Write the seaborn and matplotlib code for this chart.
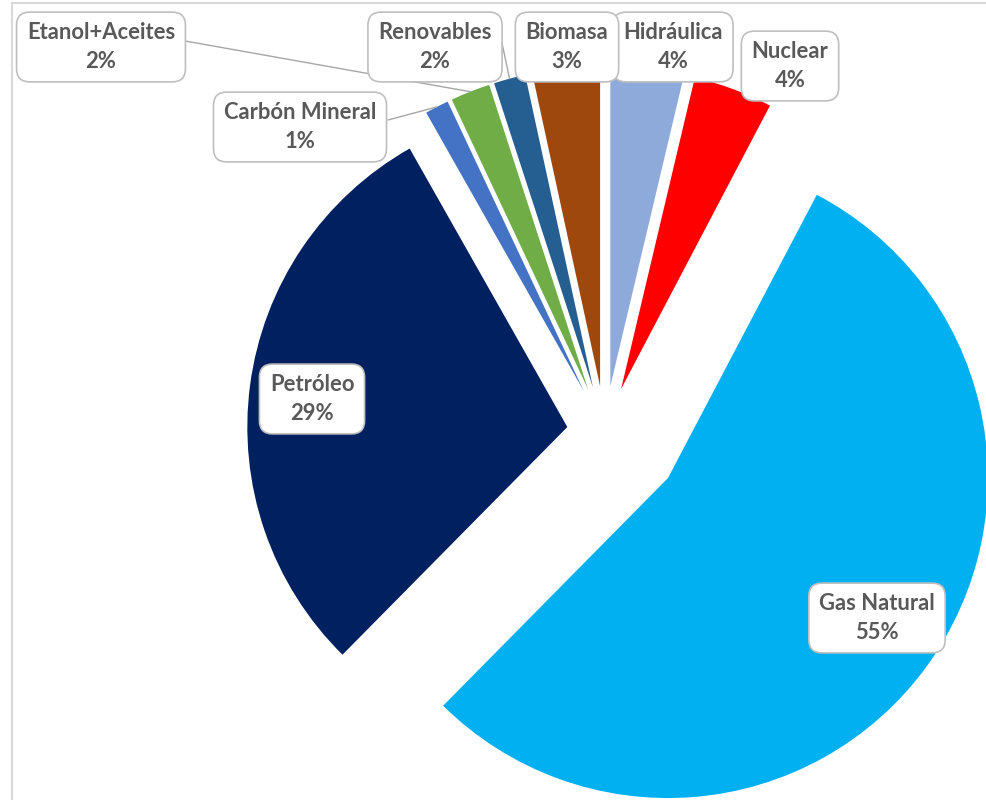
import numpy as np
import matplotlib
matplotlib.use("Agg")
import matplotlib.pyplot as plt
import seaborn as sns

# Energy mix shares (%), clockwise from 12 o'clock
fuentes = ["Hidráulica", "Nuclear", "Gas Natural", "Petróleo",
           "Carbón Mineral", "Etanol+Aceites", "Renovables", "Biomasa"]
participacion = [3.7, 4.0, 54.7, 29.4, 1.2, 2.0, 1.6, 3.4]
colores = ["#8EAADB", "#FF0000", "#00B0F0", "#002060",
           "#4472C4", "#70AD47", "#255E91", "#9E480E"]

sns.set_theme(style="white")
plt.rcParams["font.family"] = ["Lato", "DejaVu Sans"]

W, H = 986, 800
fig = plt.figure(figsize=(W / 100, H / 100), dpi=100)
ax = fig.add_axes([0, 0, 1, 1])


def py(y):
    """Convert a top-down pixel row into the axes' upward y coordinate."""
    return H - y


# Pie geometry (pixel units)
centro = (605, py(432))
radio = 320
separacion = [46, 46, 78, 38, 46, 46, 46, 46]

wedges, _ = ax.pie(participacion, colors=colores, startangle=90,
                   counterclock=False, center=centro, radius=radio,
                   explode=separacion, frame=True,
                   wedgeprops=dict(linewidth=0))

ax.set_xlim(0, W)
ax.set_ylim(0, H)
ax.set_aspect("equal")
ax.set_axis_off()

# Chart-area border (top and left edges visible)
ax.plot([12, W], [py(3), py(3)], color="#d9d9d9", lw=1.5, clip_on=False)
ax.plot([12, 12], [py(3), 0], color="#d9d9d9", lw=1.5, clip_on=False)

# Label box centres (pixel coordinates)
etiquetas_pos = {
    "Hidráulica": (673, 47),
    "Nuclear": (790, 66),
    "Gas Natural": (877, 618),
    "Petróleo": (312, 399),
    "Carbón Mineral": (300, 127),
    "Etanol+Aceites": (101, 47),
    "Renovables": (435, 47),
    "Biomasa": (567, 47),
}

for nombre, valor in zip(fuentes, participacion):
    x, y = etiquetas_pos[nombre]
    ax.text(x, py(y), f"{nombre}\n{valor:.0f}%", ha="center", va="center",
            fontsize=15.8, fontweight="bold", color="#595959",
            linespacing=1.42, zorder=5,
            bbox=dict(boxstyle="round,pad=0.47,rounding_size=0.6",
                      fc="white", ec="#bfbfbf", lw=1.2))


def punto_arco(w):
    """Midpoint of a wedge's outer arc."""
    ang = np.deg2rad(0.5 * (w.theta1 + w.theta2))
    cx, cy = w.center
    return cx + w.r * np.cos(ang), cy + w.r * np.sin(ang)


# Leader lines for the thin slices
lideres = {"Etanol+Aceites": (185, 41), "Carbón Mineral": (388, 120),
           "Renovables": (502, 43)}
for nombre, (x0, y0) in lideres.items():
    w = wedges[fuentes.index(nombre)]
    x1, y1 = punto_arco(w)
    ax.plot([x0, x1], [py(y0), y1], color="#a6a6a6", lw=1, zorder=4)

fig.savefig("out.png", dpi=100)
